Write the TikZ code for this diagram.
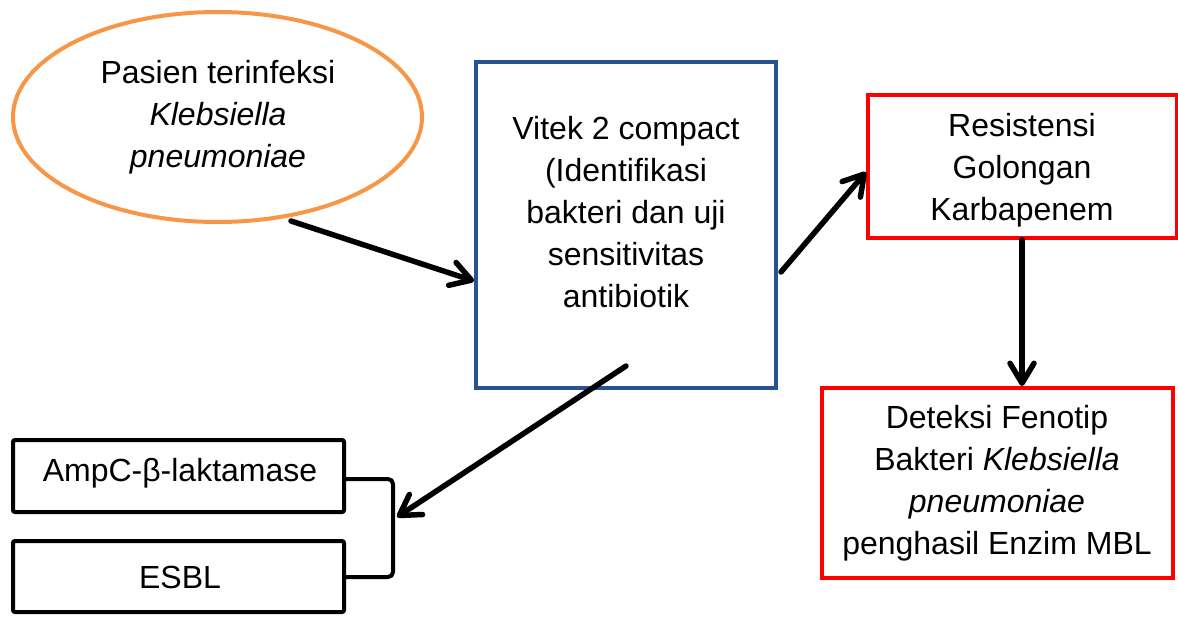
\documentclass[tikz,border=0pt]{standalone}
\usepackage{fontspec}
\setmainfont{Liberation Sans}
\usetikzlibrary{arrows.meta,shapes.geometric}
\definecolor{orng}{RGB}{247,150,70}
\definecolor{dblue}{RGB}{40,82,145}
\definecolor{rred}{RGB}{255,0,0}
\tikzset{
  txt/.style={align=center,font=\fontsize{32}{42}\selectfont,inner sep=0pt},
  bluebox/.style={draw=dblue,line width=4pt,minimum width=300pt,minimum height=326pt,inner sep=0pt},
  redbox/.style={draw=rred,line width=4pt,inner sep=0pt},
  blackbox/.style={draw=black,line width=4pt,rounded corners=2pt,inner sep=0pt,minimum width=331pt,minimum height=72pt},
  oval/.style={draw=orng,line width=4pt,ellipse,minimum width=409pt,minimum height=210pt,inner sep=0pt},
  conn/.style={line width=5.5pt,line cap=round,-{Straight Barb[round,length=20pt,width=24pt]}},
  brk/.style={line width=4pt,rounded corners=5pt}
}
\begin{document}
\begin{tikzpicture}[x=1pt,y=-1pt]
\useasboundingbox (0,0) rectangle (1178,616);
\node[oval] (pasien) at (217.5,117) {};
\node[txt] (pasientxt) at (218,117) {Pasien terinfeksi\\\textit{Klebsiella}\\\textit{pneumoniae}};
\node[bluebox] (vitek) at (626,225) {};
\node[txt] (vitektxt) at (626,212) {Vitek 2 compact\\(Identifikasi\\bakteri dan uji\\sensitivitas\\antibiotik};
\node[redbox,minimum width=309pt,minimum height=143pt] (resist) at (1022.5,166.5) {};
\node[txt] (resisttxt) at (1022,170) {Resistensi\\Golongan\\Karbapenem};
\node[redbox,minimum width=351pt,minimum height=190pt] (deteksi) at (997.5,483) {};
\node[txt] (deteksitxt) at (997,483) {Deteksi Fenotip\\Bakteri \textit{Klebsiella}\\\textit{pneumoniae}\\penghasil Enzim MBL};
\node[blackbox] (ampc) at (178.5,476) {};
\node[txt] (ampctxt) at (180,473) {AmpC-β-laktamase};
\node[blackbox,minimum height=71pt] (esbl) at (178.5,576.5) {};
\node[txt] (esbltxt) at (180,577) {ESBL};
% connector anchor points
\coordinate (a1s) at (291,221);
\coordinate (a1e) at (474,281);
\coordinate (a2s) at (781,272);
\coordinate (a2e) at (866,172);
\coordinate (a3s) at (1022,240);
\coordinate (a3e) at (1022,386);
\coordinate (a4s) at (626,366);
\coordinate (a4e) at (397,517);
\coordinate (bt) at (393,479);
\coordinate (bb) at (393,577);
\draw[brk] (ampc.east |- bt) -- (bt) -- (bb) -- (esbl.east |- bb);
\draw[conn] (a1s) -- (a1e);
\draw[conn] (a2s) -- (a2e);
\draw[conn] (a3s) -- (a3e);
\draw[conn] (a4s) -- (a4e);
\end{tikzpicture}
\end{document}
